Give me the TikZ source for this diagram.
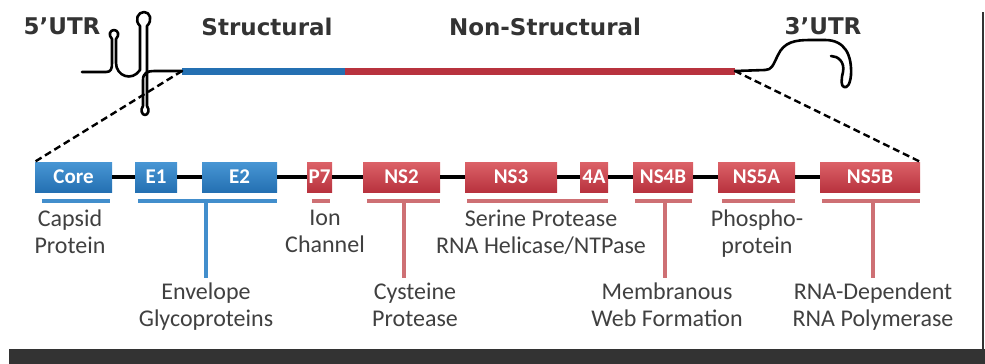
\documentclass[tikz,border=0pt]{standalone}
\usepackage{fontspec}
\setmainfont{Carlito}
\newfontfamily\headfont{DejaVu Sans}
\definecolor{strblue}{RGB}{36,112,178}
\definecolor{strbluetop}{RGB}{72,150,212}
\definecolor{nsred}{RGB}{184,50,62}
\definecolor{nsredtop}{RGB}{220,98,104}
\definecolor{barblue}{RGB}{66,142,204}
\definecolor{barred}{RGB}{206,112,116}
\definecolor{labelgray}{RGB}{64,64,64}
\definecolor{framegray}{RGB}{51,51,51}
\begin{document}
\begin{tikzpicture}[x=1pt,y=-1pt,
    gene/.style={minimum height=30pt,inner sep=0pt,text=white,
      font=\fontsize{21}{22}\selectfont\bfseries},
    sgene/.style={gene,top color=strbluetop,bottom color=strblue},
    ngene/.style={gene,top color=nsredtop,bottom color=nsred},
    lbl/.style={align=center,inner sep=0pt,anchor=north,text=labelgray,
      font=\fontsize{24}{27}\selectfont},
    head/.style={anchor=base,inner sep=0pt,text=framegray,
      font=\headfont\fontsize{23}{26}\selectfont\bfseries},
    rna/.style={line width=2.6pt,line cap=round,line join=round},
    cut/.style={line width=2.4pt,dash pattern=on 7pt off 4pt},
    sbar/.style={line width=4pt,barblue},
    nbar/.style={line width=4pt,barred},
    sdrop/.style={line width=4.5pt,barblue,shorten >=5pt},
    ndrop/.style={line width=4.5pt,barred,shorten >=5pt}]
  \useasboundingbox (0,0) rectangle (985,364);
  % frame
  \fill[framegray] (9,349) rectangle (985,364);
  \draw[framegray,line width=2.5pt] (983,12) -- (983,349);
  % genome
  \coordinate (g5) at (182,71);
  \coordinate (gmid) at (345,71);
  \coordinate (g3) at (735,71);
  \draw[line width=7pt,strblue] (g5) -- (gmid);
  \draw[line width=7pt,nsred] (gmid) -- (g3);
  \draw[rna] (82,72) -- (106,72) .. controls (111,72) and (112,69) .. (112,63) -- (112,39)
    .. controls (108,35) and (110,30) .. (114,30) .. controls (118,30) and (120,35) .. (116,39)
    -- (116,63) .. controls (116,76) and (132,82) .. (140,70) -- (140,26)
    .. controls (134,20) and (138,12) .. (144,12) .. controls (150,12) and (153,20) .. (147,26)
    -- (147,106) .. controls (150,110) and (148,115) .. (145,115)
    .. controls (142,115) and (140,110) .. (143,106) -- (143,80)
    .. controls (143,73) and (147,71) .. (155,71) -- (g5);
  \draw[rna] (g3) -- (765,70) .. controls (772,70) and (773,65) .. (778,55)
    .. controls (784,42) and (795,40) .. (810,40) -- (825,40)
    .. controls (845,40) and (852,55) .. (851,75) .. controls (850,85) and (847,88) .. (844,87)
    .. controls (841,86) and (841,80) .. (843,72) .. controls (845,62) and (838,56) .. (831,56);
  \node[head] (utr5) at (62,34) {5’UTR};
  \node[head] (structural) at (267,35) {Structural};
  \node[head] (nonstructural) at (545,35) {Non-Structural};
  \node[head] (utr3) at (823,34) {3’UTR};
  % polyprotein
  \draw
    (73.5,177) node[sgene,minimum width=77pt] (core){Core}
    (156,177) node[sgene,minimum width=42pt] (e1){E1}
    (239.5,177) node[sgene,minimum width=75pt] (e2){E2}
    (319.5,177) node[ngene,minimum width=25pt] (p7){P7}
    (401.5,177) node[ngene,minimum width=77pt] (ns2){NS2}
    (511,177) node[ngene,minimum width=92pt] (ns3){NS3}
    (594,177) node[ngene,minimum width=28pt] (ns4a){4A}
    (663,177) node[ngene,minimum width=60pt] (ns4b){NS4B}
    (756.5,177) node[ngene,minimum width=77pt] (ns5a){NS5A}
    (870,177) node[ngene,minimum width=100pt] (ns5b){NS5B};
  \begin{scope}[line width=4pt]
    \draw (core) to (e1);
    \draw (e1) to (e2);
    \draw (e2) to (p7);
    \draw (p7) to (ns2);
    \draw (ns2) to (ns3);
    \draw (ns3) to (ns4a);
    \draw (ns4a) to (ns4b);
    \draw (ns4b) to (ns5a);
    \draw (ns5a) to (ns5b);
  \end{scope}
  \draw[cut] (g5) -- (core.north west);
  \draw[cut] (g3) -- (ns5b.north east);
  % underlines
  \draw[sbar] ([xshift=7pt,yshift=-9pt]core.south west) -- ([xshift=-2pt,yshift=-9pt]core.south east);
  \draw[sbar] ([xshift=3pt,yshift=-9pt]e1.south west) -- ([yshift=-9pt]e2.south east);
  \draw[nbar] ([xshift=5pt,yshift=-9pt]p7.south west) -- ([xshift=-2pt,yshift=-9pt]p7.south east);
  \draw[nbar] ([xshift=4pt,yshift=-9pt]ns2.south west) -- ([yshift=-9pt]ns2.south east);
  \draw[nbar] ([xshift=2pt,yshift=-9pt]ns3.south west) -- ([yshift=-9pt]ns4a.south east);
  \draw[nbar] ([xshift=2pt,yshift=-9pt]ns4b.south west) -- ([xshift=-1pt,yshift=-9pt]ns4b.south east);
  \draw[nbar] ([xshift=4pt,yshift=-9pt]ns5a.south west) -- ([yshift=-9pt]ns5a.south east);
  \draw[nbar] ([xshift=2pt,yshift=-9pt]ns5b.south west) -- ([yshift=-9pt]ns5b.south east);
  % labels
  \node[lbl] (capsid) at (70,210) {Capsid\\Protein};
  \node[lbl] (ion) at (325,210) {Ion\\Channel};
  \node[lbl] (serine) at (541,210) {Serine Protease\\RNA Helicase/NTPase};
  \node[lbl] (phospho) at (757,210) {Phospho-\\protein};
  \node[lbl] (envelope) at (206,283) {Envelope\\Glycoproteins};
  \node[lbl] (cysteine) at (415,283) {Cysteine\\Protease};
  \node[lbl] (membranous) at (667,283) {Membranous\\Web Formation};
  \node[lbl] (rdrp) at (873,283) {RNA-Dependent\\RNA Polymerase};
  % drops
  \draw[sdrop] ([yshift=-9pt]envelope.north |- e2.south) -- (envelope.north);
  \draw[ndrop] ([xshift=2.5pt,yshift=-9pt]ns2.south) -- ([xshift=2.5pt]ns2.south |- cysteine.north);
  \draw[ndrop] ([xshift=2pt,yshift=-9pt]ns4b.south) -- ([xshift=2pt]ns4b.south |- membranous.north);
  \draw[ndrop] ([xshift=3pt,yshift=-9pt]ns5b.south) -- ([xshift=3pt]ns5b.south |- rdrp.north);
\end{tikzpicture}
\end{document}
